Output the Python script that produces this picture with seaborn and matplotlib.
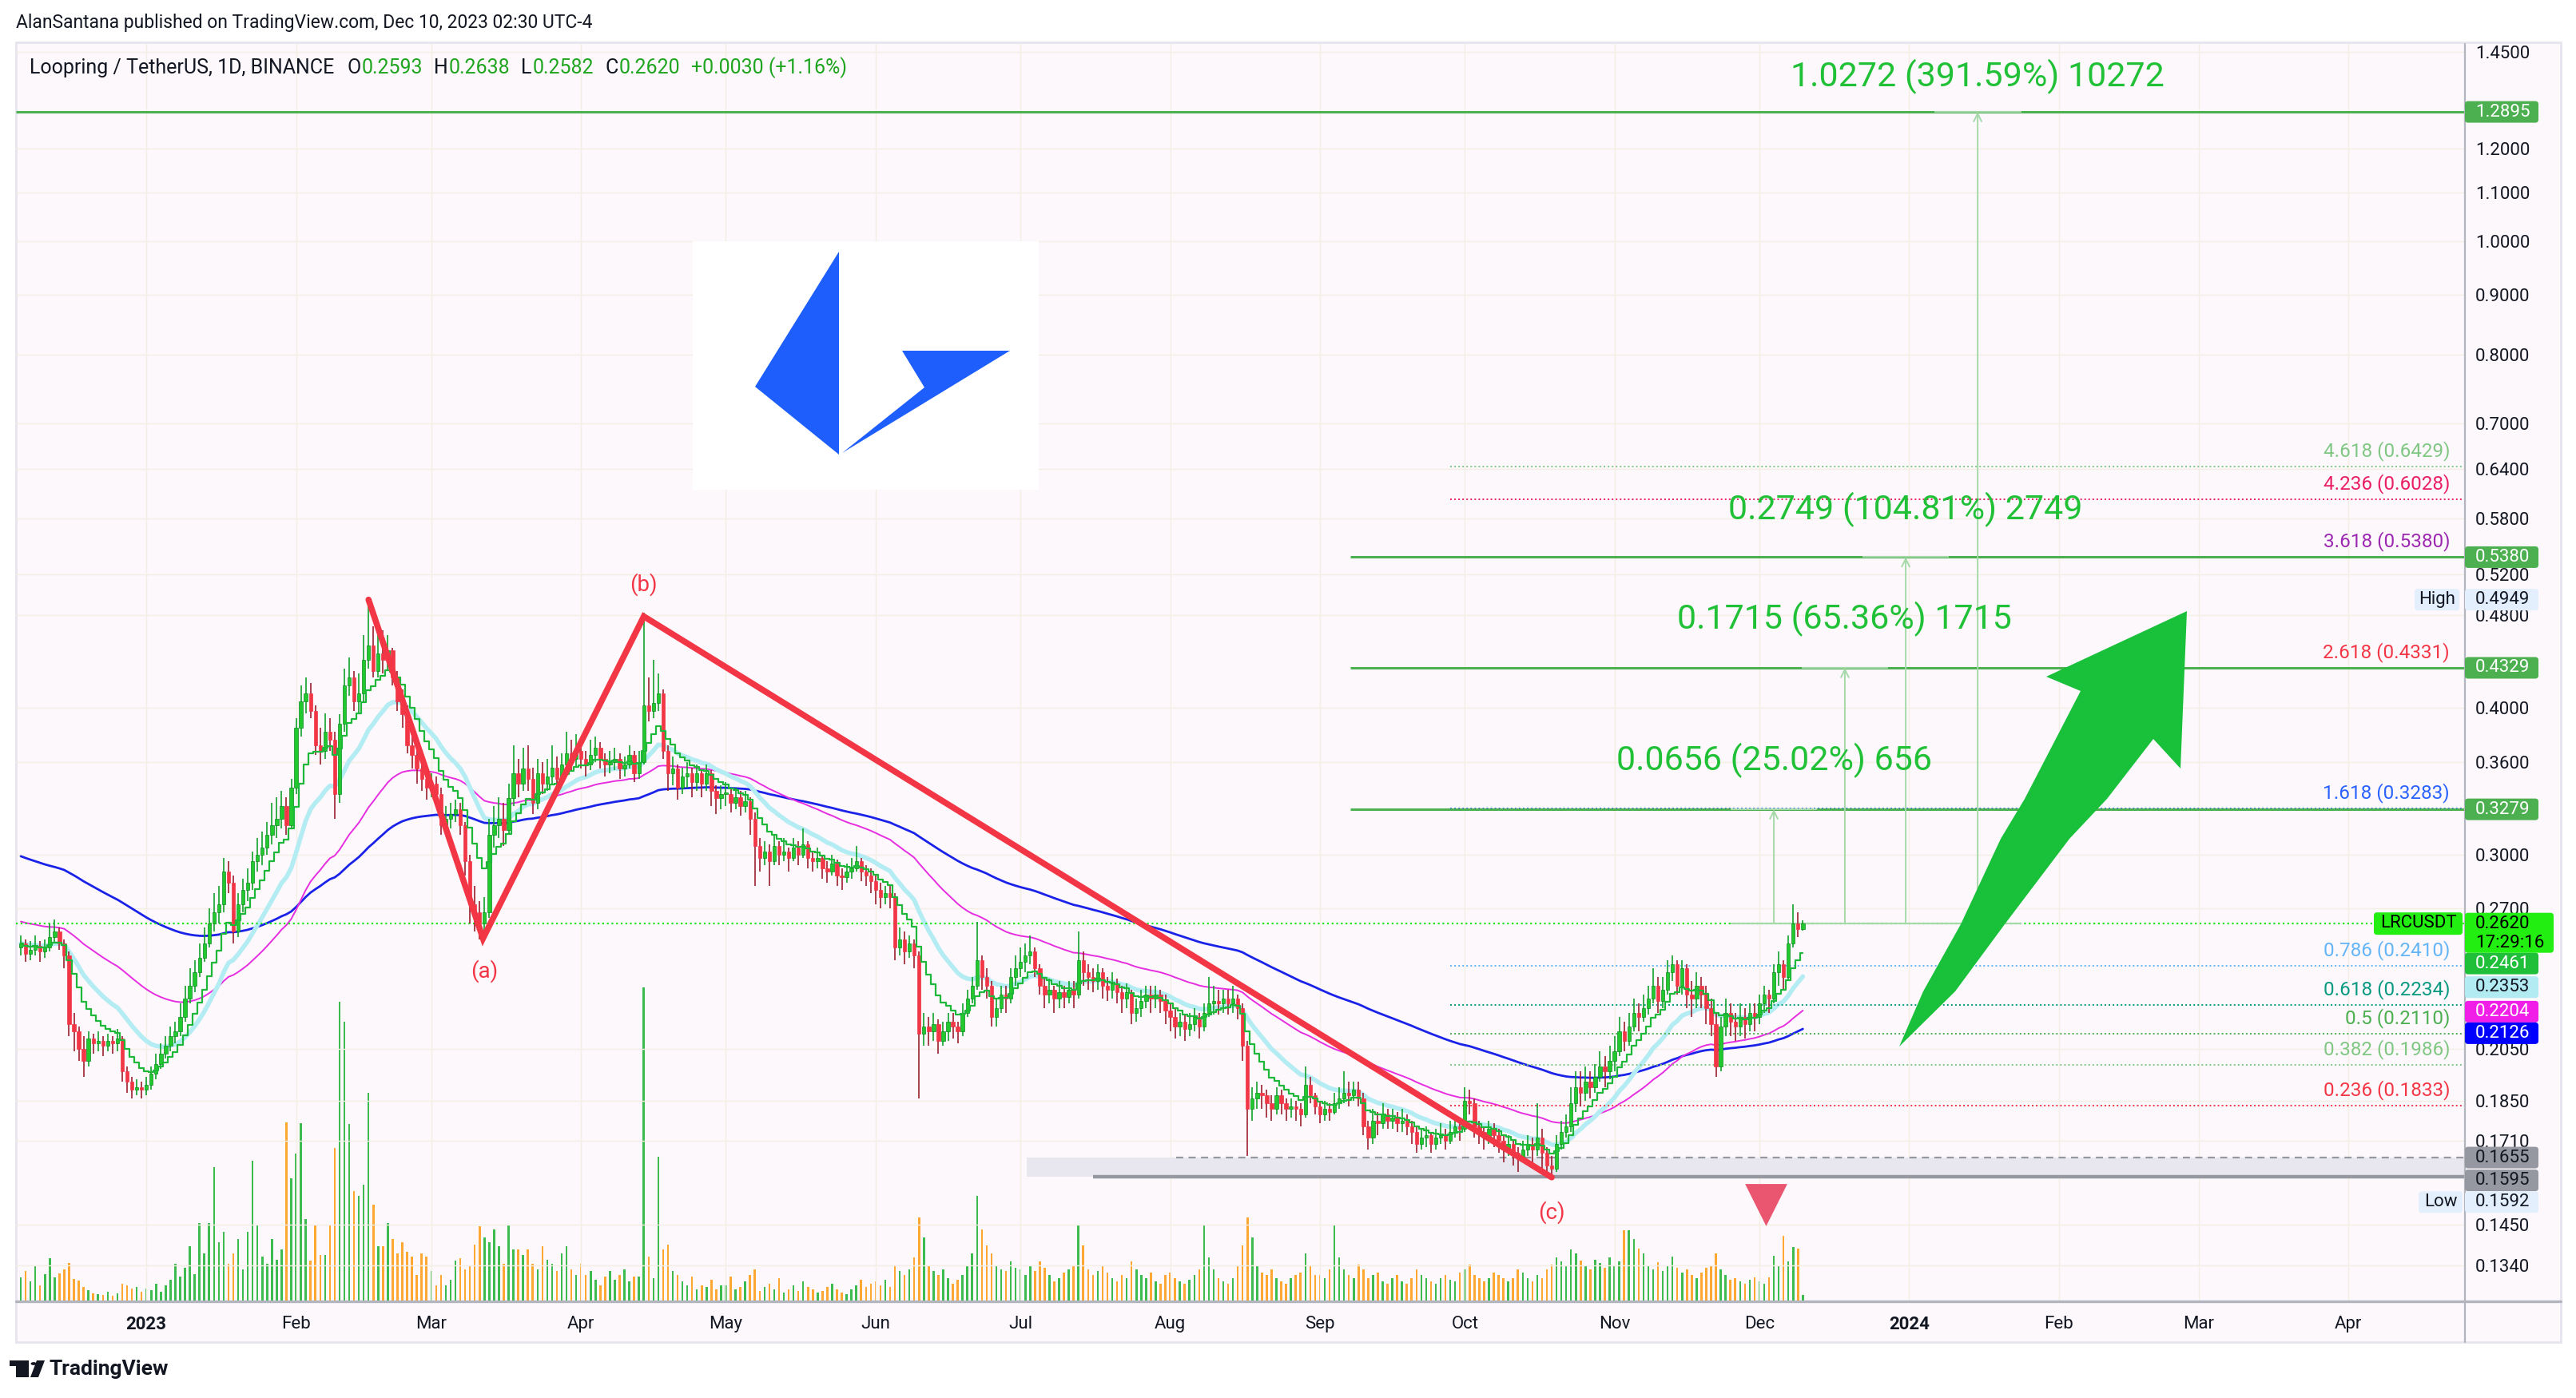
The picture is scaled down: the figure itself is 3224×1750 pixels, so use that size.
# LRC / USDT daily chart, redrawn from a TradingView idea (Dec 10, 2023)
import numpy as np
import pandas as pd
import matplotlib
matplotlib.use("Agg")
import matplotlib.pyplot as plt
import seaborn as sns
from matplotlib.patches import Rectangle, FancyBboxPatch, Polygon, Circle
from matplotlib.transforms import IdentityTransform, blended_transform_factory
from matplotlib.ticker import FixedLocator, FixedFormatter, NullLocator

# ---- daily candles, one list per month (Dec 6 2022 .. Dec 10 2023) ----
first_open = 0.250
close_dec22 = [0.252, 0.247, 0.249, 0.251, 0.248, 0.250, 0.255, 0.258, 0.252, 0.246,
               0.215, 0.212, 0.205, 0.200, 0.209, 0.207, 0.208, 0.206, 0.208, 0.207,
               0.209, 0.196, 0.192, 0.189, 0.190, 0.189]
high_dec22 = [0.256, 0.254, 0.253, 0.256, 0.253, 0.254, 0.262, 0.264, 0.260, 0.254,
              0.248, 0.220, 0.214, 0.210, 0.212, 0.211, 0.212, 0.210, 0.211, 0.210,
              0.213, 0.210, 0.198, 0.194, 0.193, 0.192]
low_dec22 = [0.246, 0.243, 0.244, 0.246, 0.243, 0.245, 0.248, 0.252, 0.249, 0.240,
             0.210, 0.204, 0.200, 0.194, 0.198, 0.203, 0.204, 0.202, 0.204, 0.203,
             0.204, 0.192, 0.188, 0.186, 0.187, 0.186]
vol_dec22 = [30, 38, 25, 45, 20, 34, 54, 30, 35, 40, 48, 28, 26, 18, 14, 10, 9, 8, 12, 7,
             10, 22, 20, 16, 18, 12]

close_jan = [0.191, 0.195, 0.199, 0.203, 0.206, 0.210, 0.212, 0.218, 0.226, 0.232,
             0.238, 0.245, 0.252, 0.262, 0.268, 0.272, 0.290, 0.284, 0.258, 0.272,
             0.280, 0.284, 0.296, 0.300, 0.304, 0.312, 0.318, 0.322, 0.330, 0.318,
             0.342]
high_jan = [0.194, 0.198, 0.203, 0.207, 0.210, 0.214, 0.216, 0.224, 0.232, 0.240,
            0.244, 0.252, 0.260, 0.270, 0.278, 0.282, 0.298, 0.296, 0.288, 0.278,
            0.286, 0.292, 0.302, 0.310, 0.314, 0.320, 0.332, 0.336, 0.340, 0.336,
            0.348]
low_jan = [0.187, 0.189, 0.193, 0.197, 0.201, 0.204, 0.207, 0.210, 0.216, 0.224,
           0.229, 0.236, 0.243, 0.250, 0.258, 0.262, 0.268, 0.278, 0.252, 0.255,
           0.268, 0.274, 0.280, 0.290, 0.294, 0.300, 0.306, 0.310, 0.316, 0.312,
           0.316]
vol_jan = [16, 14, 22, 12, 20, 27, 47, 31, 42, 69, 34, 98, 60, 98, 168, 74, 87, 47, 60, 78,
           40, 87, 176, 96, 56, 47, 78, 52, 65, 224, 154]

close_feb = [0.385, 0.405, 0.412, 0.398, 0.372, 0.368, 0.382, 0.376, 0.338, 0.388,
             0.418, 0.425, 0.405, 0.412, 0.440, 0.452, 0.430, 0.445, 0.440, 0.448,
             0.425, 0.405, 0.395, 0.372, 0.365, 0.355, 0.348, 0.342]
high_feb = [0.392, 0.418, 0.425, 0.420, 0.402, 0.385, 0.396, 0.392, 0.382, 0.395,
            0.432, 0.442, 0.430, 0.428, 0.462, 0.4949, 0.470, 0.472, 0.466, 0.462,
            0.450, 0.430, 0.415, 0.402, 0.380, 0.372, 0.362, 0.358]
low_feb = [0.338, 0.378, 0.396, 0.392, 0.365, 0.358, 0.362, 0.368, 0.322, 0.332,
           0.382, 0.410, 0.398, 0.396, 0.405, 0.432, 0.425, 0.425, 0.428, 0.430,
           0.418, 0.398, 0.385, 0.366, 0.355, 0.345, 0.340, 0.334]
vol_feb = [185, 223, 103, 51, 96, 58, 58, 96, 192, 375, 350, 222, 138, 132, 146, 261, 121,
           69, 69, 98, 78, 60, 74, 62, 56, 33, 60, 56]

close_mar = [0.345, 0.338, 0.318, 0.322, 0.325, 0.328, 0.318, 0.296, 0.272, 0.268,
             0.262, 0.268, 0.312, 0.318, 0.322, 0.315, 0.335, 0.352, 0.345, 0.355,
             0.348, 0.332, 0.352, 0.345, 0.350, 0.356, 0.348, 0.358, 0.366, 0.362,
             0.368]
high_mar = [0.352, 0.350, 0.342, 0.330, 0.332, 0.334, 0.332, 0.320, 0.300, 0.282,
            0.274, 0.276, 0.322, 0.330, 0.336, 0.332, 0.345, 0.372, 0.362, 0.370,
            0.372, 0.356, 0.362, 0.360, 0.362, 0.372, 0.364, 0.366, 0.382, 0.376,
            0.380]
low_mar = [0.336, 0.332, 0.312, 0.314, 0.316, 0.320, 0.312, 0.288, 0.262, 0.258,
           0.254, 0.258, 0.265, 0.304, 0.310, 0.305, 0.312, 0.330, 0.336, 0.340,
           0.340, 0.325, 0.328, 0.338, 0.340, 0.345, 0.342, 0.344, 0.352, 0.354,
           0.356]
vol_mar = [38, 20, 33, 20, 27, 51, 54, 40, 45, 71, 94, 80, 74, 90, 69, 47, 96, 65, 65, 58,
           65, 47, 40, 69, 52, 47, 38, 60, 69, 40, 33]

close_apr = [0.362, 0.358, 0.365, 0.370, 0.362, 0.358, 0.360, 0.362, 0.355, 0.358,
             0.365, 0.352, 0.360, 0.402, 0.398, 0.404, 0.412, 0.368, 0.352, 0.355,
             0.342, 0.350, 0.352, 0.346, 0.352, 0.345, 0.352, 0.340, 0.335, 0.338]
high_apr = [0.374, 0.368, 0.376, 0.378, 0.374, 0.366, 0.368, 0.370, 0.366, 0.364,
            0.372, 0.368, 0.368, 0.482, 0.425, 0.440, 0.428, 0.415, 0.372, 0.364,
            0.358, 0.356, 0.360, 0.356, 0.358, 0.354, 0.358, 0.354, 0.344, 0.344]
low_apr = [0.355, 0.350, 0.354, 0.360, 0.355, 0.350, 0.352, 0.354, 0.348, 0.350,
           0.355, 0.346, 0.348, 0.358, 0.390, 0.392, 0.398, 0.362, 0.340, 0.344,
           0.334, 0.338, 0.342, 0.336, 0.340, 0.336, 0.340, 0.330, 0.325, 0.328]
vol_apr = [47, 33, 38, 27, 20, 31, 38, 27, 33, 40, 25, 31, 31, 393, 56, 29, 181, 65, 71, 38,
           33, 25, 20, 31, 15, 20, 18, 27, 15, 20]

close_may = [0.338, 0.332, 0.336, 0.330, 0.333, 0.322, 0.305, 0.298, 0.302, 0.296,
             0.305, 0.300, 0.302, 0.298, 0.304, 0.300, 0.306, 0.298, 0.296, 0.298,
             0.292, 0.290, 0.295, 0.288, 0.287, 0.290, 0.292, 0.296, 0.290, 0.288,
             0.285]
high_may = [0.346, 0.342, 0.342, 0.340, 0.340, 0.336, 0.326, 0.310, 0.308, 0.306,
            0.312, 0.308, 0.310, 0.304, 0.310, 0.308, 0.316, 0.308, 0.302, 0.304,
            0.300, 0.296, 0.300, 0.297, 0.292, 0.295, 0.298, 0.305, 0.298, 0.294,
            0.292]
low_may = [0.330, 0.326, 0.328, 0.324, 0.326, 0.312, 0.282, 0.290, 0.294, 0.282,
           0.294, 0.294, 0.296, 0.290, 0.296, 0.294, 0.298, 0.292, 0.290, 0.292,
           0.286, 0.284, 0.288, 0.282, 0.280, 0.284, 0.286, 0.290, 0.285, 0.282,
           0.278]
vol_may = [20, 31, 15, 18, 25, 33, 40, 13, 18, 22, 15, 29, 11, 15, 20, 13, 25, 18, 15, 11,
           13, 18, 22, 15, 11, 9, 15, 20, 27, 18, 22]

close_jun = [0.280, 0.276, 0.278, 0.276, 0.250, 0.254, 0.248, 0.252, 0.246, 0.211,
             0.214, 0.212, 0.215, 0.208, 0.212, 0.216, 0.214, 0.212, 0.220, 0.226,
             0.232, 0.244, 0.236, 0.232, 0.218, 0.222, 0.228, 0.226, 0.236, 0.240]
high_jun = [0.288, 0.284, 0.282, 0.282, 0.278, 0.260, 0.258, 0.256, 0.254, 0.248,
            0.220, 0.218, 0.220, 0.217, 0.216, 0.220, 0.220, 0.216, 0.224, 0.230,
            0.236, 0.263, 0.246, 0.240, 0.234, 0.226, 0.232, 0.232, 0.240, 0.246]
low_jun = [0.272, 0.270, 0.272, 0.270, 0.244, 0.246, 0.242, 0.245, 0.240, 0.186,
           0.206, 0.206, 0.208, 0.203, 0.206, 0.208, 0.209, 0.207, 0.210, 0.218,
           0.224, 0.230, 0.230, 0.226, 0.214, 0.214, 0.220, 0.220, 0.224, 0.232]
vol_jun = [25, 20, 27, 18, 45, 38, 33, 40, 55, 105, 80, 45, 38, 33, 40, 29, 22, 27, 33, 45,
           60, 132, 90, 70, 60, 45, 40, 38, 50, 42]

close_jul = [0.243, 0.246, 0.248, 0.240, 0.232, 0.228, 0.230, 0.226, 0.229, 0.227,
             0.230, 0.228, 0.244, 0.238, 0.236, 0.234, 0.238, 0.232, 0.230, 0.233,
             0.229, 0.226, 0.229, 0.220, 0.222, 0.225, 0.228, 0.226, 0.228, 0.225,
             0.221]
high_jul = [0.250, 0.252, 0.256, 0.250, 0.242, 0.236, 0.235, 0.232, 0.234, 0.232,
            0.234, 0.234, 0.258, 0.248, 0.242, 0.240, 0.242, 0.240, 0.236, 0.238,
            0.235, 0.232, 0.233, 0.230, 0.226, 0.230, 0.232, 0.232, 0.232, 0.230,
            0.228]
low_jul = [0.236, 0.238, 0.242, 0.236, 0.228, 0.222, 0.224, 0.220, 0.222, 0.222,
           0.224, 0.222, 0.226, 0.232, 0.230, 0.229, 0.230, 0.226, 0.225, 0.226,
           0.224, 0.220, 0.222, 0.215, 0.216, 0.218, 0.222, 0.220, 0.222, 0.220,
           0.215]
vol_jul = [40, 33, 45, 38, 50, 42, 33, 25, 29, 36, 40, 45, 95, 70, 40, 33, 38, 45, 36, 29,
           25, 33, 29, 50, 40, 33, 29, 36, 25, 22, 33]

close_aug = [0.218, 0.214, 0.216, 0.213, 0.215, 0.218, 0.214, 0.220, 0.224, 0.225,
             0.224, 0.226, 0.224, 0.226, 0.222, 0.206, 0.182, 0.186, 0.188, 0.187,
             0.184, 0.182, 0.187, 0.184, 0.182, 0.183, 0.182, 0.180, 0.191, 0.187,
             0.183]
high_aug = [0.224, 0.222, 0.220, 0.219, 0.220, 0.222, 0.220, 0.224, 0.236, 0.232,
            0.230, 0.230, 0.230, 0.232, 0.228, 0.224, 0.208, 0.190, 0.192, 0.191,
            0.189, 0.187, 0.190, 0.189, 0.186, 0.186, 0.185, 0.184, 0.198, 0.194,
            0.188]
low_aug = [0.212, 0.209, 0.210, 0.208, 0.210, 0.212, 0.209, 0.212, 0.218, 0.219,
           0.219, 0.220, 0.219, 0.220, 0.217, 0.200, 0.166, 0.178, 0.182, 0.182,
           0.179, 0.178, 0.180, 0.180, 0.178, 0.179, 0.178, 0.176, 0.179, 0.184,
           0.180]
vol_aug = [36, 29, 25, 22, 27, 33, 40, 95, 55, 40, 29, 25, 22, 29, 45, 70, 105, 80, 45, 36,
           33, 40, 29, 25, 22, 29, 33, 36, 60, 45, 33]

close_sep = [0.180, 0.182, 0.181, 0.184, 0.186, 0.188, 0.187, 0.189, 0.186, 0.176,
             0.172, 0.178, 0.177, 0.180, 0.178, 0.179, 0.177, 0.178, 0.176, 0.174,
             0.170, 0.172, 0.173, 0.170, 0.172, 0.173, 0.171, 0.174, 0.176, 0.175]
high_sep = [0.185, 0.185, 0.184, 0.188, 0.190, 0.196, 0.192, 0.192, 0.192, 0.188,
            0.178, 0.182, 0.181, 0.184, 0.182, 0.182, 0.181, 0.182, 0.180, 0.178,
            0.176, 0.175, 0.176, 0.174, 0.175, 0.177, 0.175, 0.178, 0.180, 0.178]
low_sep = [0.177, 0.178, 0.178, 0.180, 0.182, 0.184, 0.183, 0.185, 0.183, 0.173,
           0.168, 0.170, 0.173, 0.175, 0.175, 0.175, 0.174, 0.174, 0.173, 0.170,
           0.167, 0.168, 0.169, 0.167, 0.168, 0.170, 0.168, 0.170, 0.172, 0.171]
vol_sep = [33, 29, 40, 96, 55, 40, 33, 29, 46, 40, 29, 33, 36, 25, 22, 29, 33, 25, 22, 29,
           40, 33, 29, 25, 22, 29, 33, 27, 25, 36]

close_oct = [0.185, 0.184, 0.176, 0.174, 0.172, 0.175, 0.173, 0.171, 0.168, 0.170,
             0.167, 0.165, 0.168, 0.170, 0.168, 0.172, 0.167, 0.163, 0.162, 0.170,
             0.174, 0.176, 0.184, 0.190, 0.188, 0.192, 0.190, 0.194, 0.198, 0.196,
             0.200]
high_oct = [0.190, 0.189, 0.186, 0.178, 0.176, 0.178, 0.177, 0.175, 0.173, 0.173,
            0.171, 0.169, 0.171, 0.173, 0.172, 0.184, 0.175, 0.169, 0.166, 0.173,
            0.178, 0.180, 0.190, 0.196, 0.196, 0.198, 0.196, 0.199, 0.204, 0.202,
            0.206]
low_oct = [0.174, 0.180, 0.172, 0.170, 0.168, 0.170, 0.169, 0.167, 0.164, 0.166,
           0.163, 0.161, 0.164, 0.166, 0.164, 0.166, 0.162, 0.160, 0.1592, 0.161,
           0.168, 0.172, 0.174, 0.181, 0.183, 0.185, 0.186, 0.188, 0.192, 0.190,
           0.193]
vol_oct = [40, 46, 33, 29, 25, 29, 36, 33, 29, 25, 29, 40, 36, 29, 25, 33, 29, 40, 46, 55,
           50, 45, 65, 60, 51, 45, 40, 52, 48, 42, 55]

close_nov = [0.204, 0.212, 0.208, 0.214, 0.220, 0.218, 0.222, 0.226, 0.232, 0.225,
             0.230, 0.238, 0.242, 0.232, 0.240, 0.228, 0.226, 0.232, 0.228, 0.222,
             0.215, 0.198, 0.214, 0.220, 0.216, 0.214, 0.218, 0.215, 0.220, 0.218]
high_nov = [0.210, 0.218, 0.216, 0.220, 0.226, 0.224, 0.228, 0.232, 0.240, 0.236,
            0.236, 0.244, 0.246, 0.244, 0.244, 0.242, 0.234, 0.238, 0.236, 0.232,
            0.226, 0.220, 0.218, 0.226, 0.224, 0.220, 0.224, 0.222, 0.224, 0.224]
low_nov = [0.196, 0.202, 0.204, 0.206, 0.212, 0.212, 0.216, 0.219, 0.224, 0.220,
           0.222, 0.228, 0.234, 0.228, 0.228, 0.222, 0.218, 0.222, 0.222, 0.215,
           0.210, 0.194, 0.196, 0.210, 0.210, 0.208, 0.210, 0.209, 0.212, 0.212]
vol_nov = [45, 50, 89, 89, 78, 66, 60, 45, 40, 49, 38, 45, 56, 42, 36, 40, 33, 29, 36, 42,
           45, 60, 40, 33, 27, 29, 25, 22, 27, 30]

close_dec = [0.224, 0.228, 0.226, 0.238, 0.242, 0.236, 0.252, 0.262, 0.2593, 0.2620]
high_dec = [0.228, 0.232, 0.230, 0.242, 0.248, 0.244, 0.256, 0.272, 0.268, 0.2638]
low_dec = [0.215, 0.220, 0.220, 0.224, 0.232, 0.230, 0.234, 0.250, 0.255, 0.2582]
vol_dec = [25, 22, 30, 57, 45, 82, 50, 68, 66, 8]

# ---- drawings on the chart ----
abc_days = [46, 69.7, 103, 291]
abc_prices = [0.4949, 0.2545, 0.4789, 0.1592]
wave_labels = ["(a)", "(b)", "(c)"]
wave_label_days = [70, 103, 291]
wave_label_prices = [0.2388, 0.5097, 0.1486]

fib_ratios = ["4.618", "4.236", "3.618", "2.618", "1.618", "0.786", "0.618", "0.5", "0.382", "0.236"]
fib_prices = [0.6429, 0.6028, 0.5380, 0.4331, 0.3283, 0.2410, 0.2234, 0.2110, 0.1986, 0.1833]
fib_colors = ["#81c784", "#e91e63", "#9c27b0", "#f23645", "#2962ff",
              "#64b5f6", "#089981", "#4caf50", "#81c784", "#f23645"]

targets = [1.2895, 0.5380, 0.4329, 0.3279]
target_start_days = [-27, 249.3, 249.3, 249.3]
last_price = 0.2620
measure_days = [337, 351.7, 364.3, 379.2]
measure_targets = [0.3279, 0.4329, 0.5380, 1.2895]
measure_labels = ["0.0656 (25.02%) 656", "0.1715 (65.36%) 1715",
                  "0.2749 (104.81%) 2749", "1.0272 (391.59%) 10272"]
measure_label_prices = [0.361, 0.4763, 0.5907, 1.381]

support_top, support_bottom = 0.1655, 0.1595
support_start_days = [182.3, 213.3, 196.0]   # zone, dashed top, solid bottom
marker_day, marker_price = [335.4], [0.151]

price_ticks = [1.45, 1.2, 1.1, 1.0, 0.9, 0.8, 0.7, 0.64, 0.58, 0.52, 0.48, 0.40,
               0.36, 0.30, 0.27, 0.205, 0.185, 0.171, 0.145, 0.134]
month_starts = pd.date_range("2023-01-01", "2024-04-01", freq="MS")

# ---- assemble the series ----
close = np.array(close_dec22 + close_jan + close_feb + close_mar + close_apr + close_may +
                 close_jun + close_jul + close_aug + close_sep + close_oct + close_nov + close_dec)
high = np.array(high_dec22 + high_jan + high_feb + high_mar + high_apr + high_may +
                high_jun + high_jul + high_aug + high_sep + high_oct + high_nov + high_dec)
low = np.array(low_dec22 + low_jan + low_feb + low_mar + low_apr + low_may +
               low_jun + low_jul + low_aug + low_sep + low_oct + low_nov + low_dec)
volume = np.array(vol_dec22 + vol_jan + vol_feb + vol_mar + vol_apr + vol_may +
                  vol_jun + vol_jul + vol_aug + vol_sep + vol_oct + vol_nov + vol_dec, float)

dates = pd.date_range("2022-12-06", periods=len(close), freq="D")
day = (dates - pd.Timestamp("2023-01-01")).days.values.astype(float)
opn = np.r_[first_open, close[:-1]]
high = np.maximum(high, np.maximum(opn, close))
low = np.minimum(low, np.minimum(opn, close))
up = close >= opn


def ema(values, span, seed):
    s = pd.Series(np.r_[seed, values])
    return s.ewm(span=span, adjust=False).mean().values[1:]


ma = pd.DataFrame({"day": day,
                   "fast": ema(close, 9, close[0]),
                   "ema20": ema(close, 20, 0.252),
                   "ema50": ema(close, 50, 0.2635),
                   "ema100": ema(close, 100, 0.300)})

# ---- figure geometry (pixels) ----
W, H = 3224, 1750
L, R, T, B = 20, 3085, 55, 1629
PANE = "#fcf8fc"
INK = "#131722"


def fx(x):
    return x / W


def fy(y):
    return 1 - y / H


def fig_pts(pts):
    return [(fx(x), fy(y)) for x, y in pts]


sns.set_style("white")
plt.rcParams["font.family"] = ["Roboto", "DejaVu Sans"]

fig = plt.figure(figsize=(W / 100, H / 100), dpi=100, facecolor="white")
fig.add_artist(Rectangle((fx(20), fy(1680)), fx(3205) - fx(20), fy(53) - fy(1680),
                         transform=fig.transFigure, fc=PANE, ec="#e6e4ee", lw=2, zorder=-1))

pos = [fx(L), fy(B), fx(R) - fx(L), fy(T) - fy(B)]
ax_vol = fig.add_axes(pos)
ax = fig.add_axes(pos, sharex=ax_vol)
ax_vol.set_facecolor("none")
ax.set_facecolor("none")

# volume overlay
vol_colors = np.where(up, "#3dbb4f", "#ffa733")
ax_vol.bar(day, volume, width=0.42, color=vol_colors, linewidth=0)
ax_vol.set_ylim(0, volume.max() * (B - T) / 393)
ax_vol.axis("off")

ax.set_yscale("log")

# logo on a white card
ax.add_patch(Rectangle((fx(867), fy(613)), fx(1300) - fx(867), fy(302) - fy(613),
                       transform=fig.transFigure, fc="white", ec="none", zorder=1.2))
ax.add_patch(Polygon(fig_pts([(1050, 315), (945, 484), (1050, 569)]),
                     transform=fig.transFigure, fc="#1d5efc", ec="none", zorder=1.3))
ax.add_patch(Polygon(fig_pts([(1054, 567), (1157, 485), (1129, 439), (1264, 439)]),
                     transform=fig.transFigure, fc="#1d5efc", ec="none", zorder=1.3))

# support zone
xmax = 480.1
ax.fill_between([support_start_days[0], xmax], support_bottom, support_top,
                color="#e8e7ef", lw=0, zorder=1.4)
ax.hlines(support_top, support_start_days[1], xmax, colors="#9598a1",
          linestyles=(0, (4, 3)), lw=1.6, zorder=1.5)
ax.hlines(support_bottom, support_start_days[2], xmax, colors="#9598a1", lw=3.2, zorder=1.5)

# moving averages
sns.lineplot(data=ma, x="day", y="ema100", ax=ax, color="#1a22e8", lw=2.0, zorder=2)
sns.lineplot(data=ma, x="day", y="ema50", ax=ax, color="#e62ee0", lw=1.4, zorder=2)
sns.lineplot(data=ma, x="day", y="ema20", ax=ax, color="#b3ecf2", lw=4.0, zorder=2)

# candles
wick_colors = np.where(up, "#12a12a", "#9c1f2e")
ax.vlines(day, low, high, colors=wick_colors, lw=1.2, zorder=3)
body_lo = np.minimum(opn, close)
body_h = np.maximum(np.abs(close - opn), 0.0007)
ax.bar(day, body_h, bottom=body_lo, width=0.72,
       color=np.where(up, "#22c92e", "#f23645"),
       edgecolor=np.where(up, "#0b8a1d", "#f23645"), linewidth=0.5, zorder=4)

sns.lineplot(data=ma, x="day", y="fast", ax=ax, color="#1db83a", lw=1.6,
             drawstyle="steps-mid", zorder=4.5)
ax.set_xlabel("")
ax.set_ylabel("")

# fib levels
blend = blended_transform_factory(ax.transAxes, ax.transData)
for ratio, price, col in zip(fib_ratios, fib_prices, fib_colors):
    ax.hlines(price, 270, xmax, colors=col, linestyles=(0, (1, 1.6)), lw=1.4, zorder=2.5)
    ax.annotate(f"{ratio} ({price:.4f})", xy=((3066 - L) / (R - L), price), xycoords=blend,
                xytext=(0, 5), textcoords="offset points", ha="right", va="bottom",
                color=col, fontsize=17.5, zorder=5)

# target lines and current price line
for price, start in zip(targets, target_start_days):
    ax.hlines(price, start, xmax, colors="#4caf50", lw=2.2, zorder=2.6)
ax.axhline(last_price, color="#1fe51f", ls=(0, (1, 1.6)), lw=1.6, zorder=2.6)

# price range measurements
for d, tgt, lab, ty in zip(measure_days, measure_targets, measure_labels, measure_label_prices):
    ax.hlines([last_price, tgt], d - 9, d + 9, colors="#a6d9a8", lw=1.5, zorder=2.7)
    ax.annotate("", xy=(d, tgt), xytext=(d, last_price),
                arrowprops=dict(arrowstyle="->,head_length=0.7,head_width=0.35",
                                color="#a6d9a8", lw=1.4, shrinkA=0, shrinkB=0), zorder=2.7)
    ax.text(d, ty, lab, color="#20c136", fontsize=31, ha="center", va="center", zorder=5)

# ABC correction
ax.plot(abc_days, abc_prices, color="#f23645", lw=5.5, solid_capstyle="round",
        solid_joinstyle="miter", zorder=6)
for lab, d, p in zip(wave_labels, wave_label_days, wave_label_prices):
    ax.text(d, p, lab, color="#f23645", fontsize=20, ha="center", va="center", zorder=6)

ax.scatter(marker_day, marker_price, marker="v", s=1444, color="#ea5670", lw=0, zorder=6)

# big green arrow
arrow = [(2377, 1310), (2407, 1241), (2454, 1157), (2504, 1050), (2534, 1000), (2604, 865),
         (2561, 847), (2737, 765), (2729, 962), (2695, 925), (2637, 1000), (2590, 1050),
         (2509, 1157), (2447, 1241)]
ax.add_patch(Polygon(fig_pts(arrow), transform=fig.transFigure, fc="#19c03a", ec="none",
                     zorder=7, clip_on=False))

# axes, ticks, grid
ax.set_xlim(-27, xmax)
ax.set_ylim(0.1248, 1.4736)
ax.yaxis.tick_right()
ax.yaxis.set_major_locator(FixedLocator(price_ticks))
ax.yaxis.set_major_formatter(FixedFormatter([f"{t:.4f}" for t in price_ticks]))
ax.yaxis.set_minor_locator(NullLocator())
ax.tick_params(axis="y", length=0, pad=9.4, labelsize=16, labelcolor=INK)
month_days = (month_starts - pd.Timestamp("2023-01-01")).days.values
month_labels = [str(m.year) if m.month == 1 else m.strftime("%b") for m in month_starts]
ax.set_xticks(month_days)
ax.set_xticklabels(month_labels)
for t in ax.get_xticklabels():
    if t.get_text().isdigit():
        t.set_fontweight("bold")
ax.tick_params(axis="x", length=0, pad=13, labelsize=16, labelcolor=INK)
ax.grid(True, color="#f4eee3", lw=1)
ax.set_axisbelow(True)
for s in ax.spines.values():
    s.set_visible(False)

fig.add_artist(plt.Line2D([fx(20), fx(3205)], [fy(B), fy(B)], transform=fig.transFigure,
                          color="#b2b5be", lw=2.4))
fig.add_artist(plt.Line2D([fx(R), fx(R)], [fy(T), fy(1680)], transform=fig.transFigure,
                          color="#b2b5be", lw=1.6))

# price axis tags
ident = IdentityTransform()


def ypx(value):
    return ax.transData.transform((0, value))[1]


def tag(x0, x1, yc, h, face, texts, ink, ha="left"):
    fig.add_artist(FancyBboxPatch((x0, yc - h / 2), x1 - x0, h,
                                  boxstyle="round,pad=0,rounding_size=4",
                                  transform=ident, fc=face, ec="none", zorder=4))
    for i, s in enumerate(texts):
        tx = 3098 if ha == "left" else (x0 + x1) / 2
        fig.text(tx, yc + h / 2 - 13.5 - i * 24, s, transform=ident, fontsize=16,
                 color=ink, ha=ha, va="center", zorder=5)


axis_tags = [(1.2895, "#4caf50", "white", 0), (0.5380, "#4caf50", "white", 0),
             (0.4949, "#e3effd", INK, 0), (0.4329, "#4caf50", "white", 0),
             (0.3279, "#4caf50", "white", 0), (0.2461, "#1fbf3a", "white", 10),
             (0.2353, "#b2ebf2", INK, 11), (0.2204, "#f01ee6", "white", 0),
             (0.2126, "#0000ff", "white", 4), (0.1655, "#9598a1", INK, 0),
             (0.1595, "#9598a1", INK, 5), (0.1592, "#e3effd", INK, 31)]
for value, face, ink, nudge in axis_tags:
    tag(R, 3177, ypx(value) - nudge, 27, face, [f"{value:.4f}"], ink)

yl = ypx(last_price)
tag(R, 3196, yl - 11.5, 50, "#22ee11", ["0.2620", "17:29:16"], "black")
tag(2971, 3082, yl, 28, "#22ee11", ["LRCUSDT"], "black", ha="center")
tag(3022, 3078, ypx(0.4949), 27, "#e3effd", ["High"], INK, ha="center")
tag(3027, 3082, ypx(0.1592) - 31, 27, "#e3effd", ["Low"], INK, ha="center")

# header and legend
fig.text(20, H - 29, "AlanSantana published on TradingView.com, Dec 10, 2023 02:30 UTC-4",
         transform=ident, fontsize=16.5, color=INK, va="center")
renderer = fig.canvas.get_renderer()
up_green = "#1fa51f"
legend_parts = [("Loopring / TetherUS, 1D, BINANCE", INK, 16), ("O", INK, 1),
                ("0.2593", up_green, 14), ("H", INK, 1), ("0.2638", up_green, 14),
                ("L", INK, 1), ("0.2582", up_green, 14), ("C", INK, 1),
                ("0.2620", up_green, 14), ("+0.0030 (+1.16%)", up_green, 0)]
x = 37
for s, col, gap in legend_parts:
    t = fig.text(x, H - 85, s, transform=ident, fontsize=18, color=col, va="center")
    x = t.get_window_extent(renderer).x1 + gap

# TradingView mark at the bottom
ax.add_patch(Rectangle((fx(20), fy(1724)), fx(36) - fx(20), fy(1703) - fy(1724),
                       transform=fig.transFigure, fc=INK, ec="none", clip_on=False))
ax.add_patch(Rectangle((fx(12), fy(1710)), fx(36) - fx(12), fy(1703) - fy(1710),
                       transform=fig.transFigure, fc=INK, ec="none", clip_on=False))
ax.add_patch(Circle((fx(42), fy(1707)), 3.5 / W, transform=fig.transFigure, fc=INK,
                    ec="none", clip_on=False))
ax.add_patch(Polygon(fig_pts([(46, 1703), (56, 1703), (48, 1724), (38, 1724)]),
                     transform=fig.transFigure, fc=INK, ec="none", clip_on=False))
fig.text(62, H - 1714, "TradingView", transform=ident, fontsize=19, fontweight="bold",
         color=INK, va="center")

fig.savefig("out.png", dpi=100, facecolor="white")
